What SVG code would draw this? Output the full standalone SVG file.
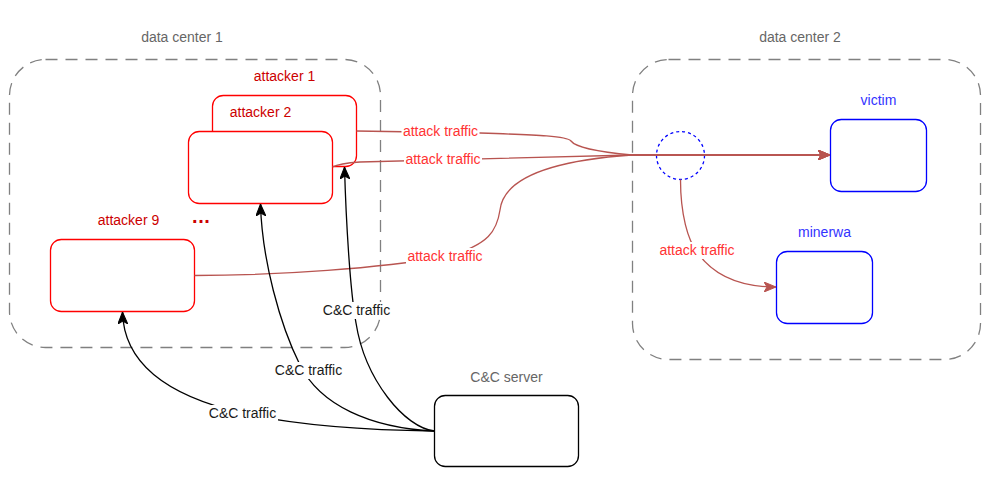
<svg xmlns="http://www.w3.org/2000/svg" width="1003" height="486" viewBox="0 0 1003 486">
<defs>
<style>
text{font-family:"Liberation Sans",Arial,sans-serif;font-size:14px;text-anchor:middle}
.dc{fill:none;stroke:#808080;stroke-width:1.3;stroke-dasharray:12 8}
.gray{fill:#666666}
.att{fill:#ffffff;stroke:#ff0000;stroke-width:1.3}
.attl{fill:#cc0000}
.vic{fill:#ffffff;stroke:#0000ff;stroke-width:1.3}
.vicl{fill:#3333ff}
.srv{fill:#ffffff;stroke:#000000;stroke-width:1.3}
.red{fill:none;stroke:#b85450;stroke-width:1.3}
.blk{fill:none;stroke:#000000;stroke-width:1.3}
.rl{fill:#ff3333}
.bl{fill:#1a1a1a}
.bg{fill:#ffffff}
</style>
<marker id="ar" markerUnits="userSpaceOnUse" viewBox="0 0 12 10" refX="12" refY="5" markerWidth="12" markerHeight="10" orient="auto">
<path d="M0,0 L12,5 L0,10 L3,5 Z" fill="#b85450" stroke="#b85450" stroke-width="1"/>
</marker>
<marker id="ab" markerUnits="userSpaceOnUse" viewBox="0 0 12 10" refX="12" refY="5" markerWidth="12" markerHeight="10" orient="auto">
<path d="M0,0 L12,5 L0,10 L3,5 Z" fill="#000000" stroke="#000000" stroke-width="1"/>
</marker>
</defs>
<rect width="1003" height="486" fill="#ffffff"/>

<g id="datacenter1">
<rect class="dc" x="9.5" y="59.5" width="371" height="288" rx="36"/>
<text class="gray" x="182" y="42">data center 1</text>
</g>
<g id="datacenter2">
<rect class="dc" x="632.5" y="59.5" width="348" height="300" rx="36"/>
<text class="gray" x="800" y="42">data center 2</text>
</g>

<g id="attacker1">
<rect class="att" x="212.5" y="95.5" width="144" height="71" rx="10.8"/>
<text class="attl" x="284.5" y="81">attacker 1</text>
</g>
<g id="attacker2">
<rect class="att" x="188.5" y="131.5" width="144" height="72" rx="10.8"/>
<text class="attl" x="260.5" y="117">attacker 2</text>
</g>
<g id="attacker9">
<rect class="att" x="50.5" y="239.5" width="144" height="72" rx="10.8"/>
<text class="attl" x="128.5" y="225">attacker 9</text>
</g>
<g id="ellipsis">
<text x="192" y="222.5" style="font-size:20px;font-weight:bold;fill:#cc0000;text-anchor:start;letter-spacing:0.6px">...</text>
</g>
<g id="victim">
<rect class="vic" x="830.5" y="119.5" width="96" height="72" rx="10.8"/>
<text class="vicl" x="878.5" y="105">victim</text>
</g>
<g id="minerwa">
<rect class="vic" x="776.5" y="251.5" width="96" height="72" rx="10.8"/>
<text class="vicl" x="824.5" y="237">minerwa</text>
</g>
<g id="tap">
<circle cx="680.5" cy="155.5" r="24" fill="none" stroke="#0000ff" stroke-width="1.3" stroke-dasharray="3 3"/>
</g>
<g id="ccserver">
<rect class="srv" x="434.5" y="395.5" width="144" height="71" rx="10.8"/>
<text class="gray" x="506.5" y="381.5">C&amp;C server</text>
</g>

<g id="connectors">
<path class="red" d="M356.5,131 L480,133 C540,135 567,136 571,141 C576,148 600,152 632,155 L830,155" marker-end="url(#ar)"/>
<path class="red" d="M332.5,167 C338,164 345,163 360,162 L632,155 L830,155" marker-end="url(#ar)"/>
<path class="red" d="M194.5,275.5 C280,275.5 380,268 445,257 C490,245 497,230 500,210 C504,175 560,160 632,155 L830,155" marker-end="url(#ar)"/>
<path class="red" d="M680.5,179.5 C680.5,215 688,240 697,252 C715,278 745,287 776,287" marker-end="url(#ar)"/>
<path class="blk" d="M434.5,431 C360,430 290,424 242,413 C190,401 124,375 122.5,312" marker-end="url(#ab)"/>
<path class="blk" d="M434.5,431 C370,428 320,405 300,365 C280,325 262,260 260.5,204" marker-end="url(#ab)"/>
<path class="blk" d="M434.5,431 C405,428 365,380 356,323 C350,290 346,220 344.5,167" marker-end="url(#ab)"/>

<rect class="bg" x="401.5" y="123" width="78" height="17"/>
<text class="rl" x="440.5" y="136">attack traffic</text>
<rect class="bg" x="404" y="150.5" width="78" height="17"/>
<text class="rl" x="443" y="163.5">attack traffic</text>
<rect class="bg" x="406" y="248" width="78" height="17"/>
<text class="rl" x="445" y="261">attack traffic</text>
<rect class="bg" x="658" y="242" width="78" height="17"/>
<text class="rl" x="697" y="255">attack traffic</text>

<rect class="bg" x="207" y="405" width="71" height="17"/>
<text class="bl" x="242.5" y="418">C&amp;C traffic</text>
<rect class="bg" x="273" y="362" width="71" height="17"/>
<text class="bl" x="308.5" y="375">C&amp;C traffic</text>
<rect class="bg" x="321" y="302" width="71" height="17"/>
<text class="bl" x="356.5" y="315">C&amp;C traffic</text>
</g>
</svg>
